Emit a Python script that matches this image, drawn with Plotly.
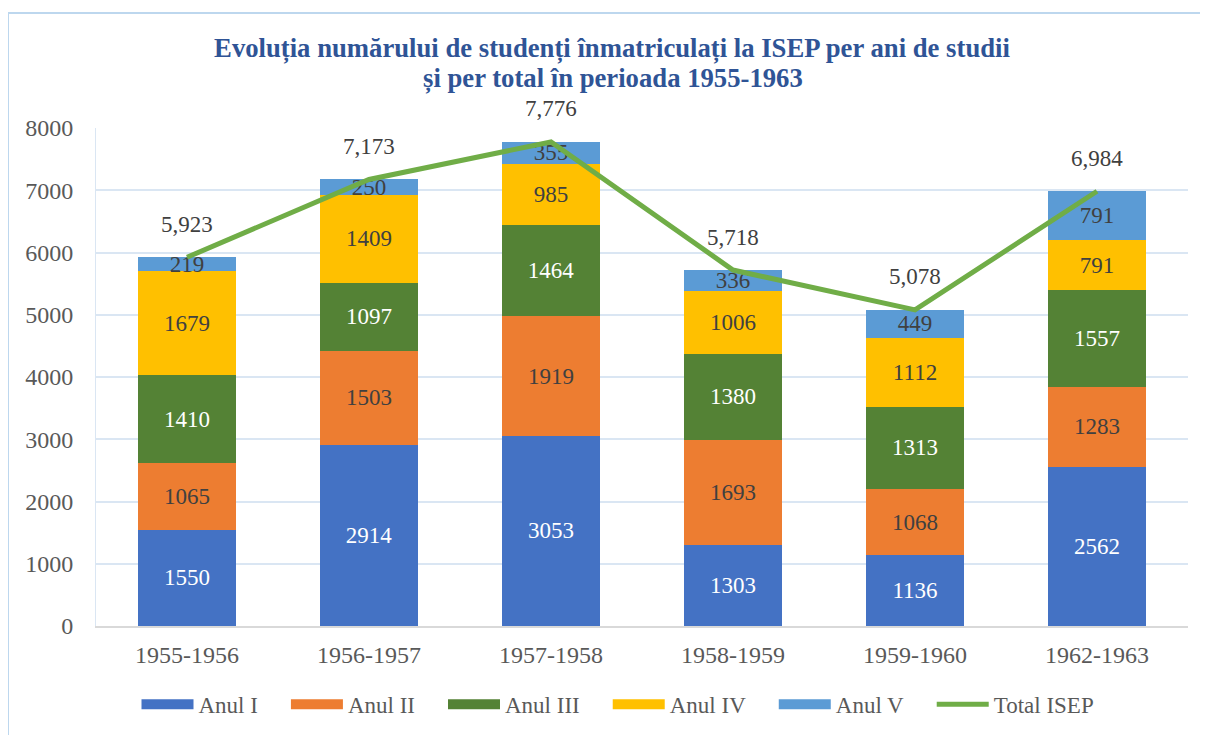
import plotly.graph_objects as go

categories = ["1955-1956", "1956-1957", "1957-1958", "1958-1959", "1959-1960", "1962-1963"]
anul_i = [1550, 2914, 3053, 1303, 1136, 2562]
anul_ii = [1065, 1503, 1919, 1693, 1068, 1283]
anul_iii = [1410, 1097, 1464, 1380, 1313, 1557]
anul_iv = [1679, 1409, 985, 1006, 1112, 791]
anul_v = [219, 250, 355, 336, 449, 791]
total_isep = [5923, 7173, 7776, 5718, 5078, 6984]

title_line1 = "Evoluția numărului de studenți înmatriculați la ISEP per ani de studii"
title_line2 = "și per total în perioada 1955-1963"

series = [
    ("Anul I", anul_i, "#4472C4", "white"),
    ("Anul II", anul_ii, "#ED7D31", "#404040"),
    ("Anul III", anul_iii, "#548235", "white"),
    ("Anul IV", anul_iv, "#FFC000", "#404040"),
    ("Anul V", anul_v, "#5B9BD5", "#404040"),
]

FONT = "Liberation Serif, Times New Roman, serif"
LINE_GREEN = "#70AD47"
TITLE_COLOR = "#2F5496"
PAD = "\u00a0" * 4  # spacing between legend entries

fig = go.Figure()
for name, vals, color, tcolor in series:
    fig.add_trace(go.Bar(
        name=name, x=categories, y=vals, marker_color=color,
        marker_line_width=0, showlegend=False, legendgroup=name,
        text=[str(v) for v in vals], textposition="inside", insidetextanchor="middle",
        textfont=dict(family=FONT, size=23, color=tcolor),
        constraintext="none", cliponaxis=False,
    ))

fig.add_trace(go.Scatter(
    name="Total ISEP", x=categories, y=total_isep, mode="lines",
    line=dict(color=LINE_GREEN, width=5), cliponaxis=False, showlegend=False,
))

# legend entries (wide swatches like the original)
for name, vals, color, tcolor in series:
    fig.add_trace(go.Scatter(name=name + PAD, x=[None], y=[None], mode="lines",
                             line=dict(color=color, width=14), legendgroup=name))
fig.add_trace(go.Scatter(name="Total ISEP", x=[None], y=[None], mode="lines",
                         line=dict(color=LINE_GREEN, width=5)))

for c, t in zip(categories, total_isep):
    fig.add_annotation(x=c, y=t, text=f"{t:,}", showarrow=False, yshift=33,
                       font=dict(family=FONT, size=23, color="#404040"))

# second title line
fig.add_annotation(xref="paper", yref="paper", x=0.4734, y=1.1004, xanchor="center", yanchor="middle",
                   text=title_line2, showarrow=False,
                   font=dict(family=FONT, size=26.7, color=TITLE_COLOR, weight="bold"))

fig.add_shape(type="rect", xref="paper", yref="paper",
              x0=-0.0806, x1=1.05, y0=-0.3, y1=1.231,
              line=dict(color="#BDD7EE", width=2), fillcolor="rgba(0,0,0,0)", layer="below")

fig.update_layout(
    barmode="stack", bargap=0.46,
    width=1208, height=735,
    margin=dict(l=88, r=28, t=120, b=117, autoexpand=False),
    paper_bgcolor="white", plot_bgcolor="white",
    font=dict(family=FONT, size=23, color="#595959"),
    title=dict(
        text=title_line1,
        x=0.5, xanchor="center", y=0.9456, yanchor="middle",
        font=dict(family=FONT, size=26.7, color=TITLE_COLOR, weight="bold"),
    ),
    legend=dict(orientation="h", x=(618 - 8 - 88) / 1092, xanchor="center", y=-0.114, yanchor="top",
                font=dict(family=FONT, size=23, color="#595959"), itemwidth=52,
                traceorder="normal"),
    showlegend=True,
)
fig.update_xaxes(showgrid=False, showline=True, linecolor="#D9D9D9", linewidth=2,
                 ticks="outside", ticklen=6, tickcolor="rgba(0,0,0,0)",
                 tickfont=dict(family=FONT, size=24, color="#595959"))
fig.update_yaxes(range=[0, 8000], dtick=1000, showgrid=True, gridcolor="#DAE6F3", gridwidth=1.5,
                 showline=True, linecolor="#DAE6F3", zeroline=False, tickformat="d",
                 ticks="outside", ticklen=17, tickcolor="rgba(0,0,0,0)",
                 tickfont=dict(family=FONT, size=24, color="#595959"))

fig.write_html("out.html")
